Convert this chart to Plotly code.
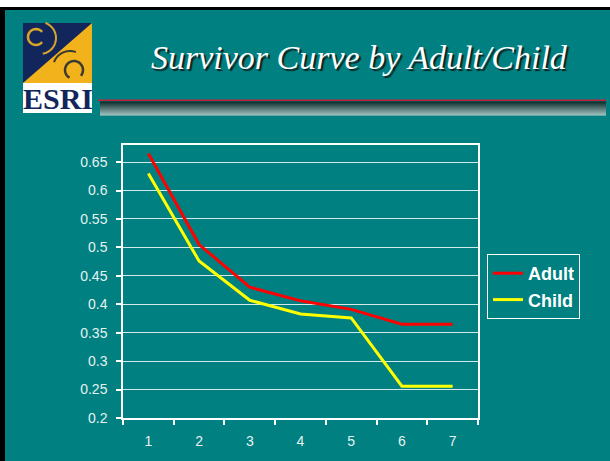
import numpy as np
import plotly.graph_objects as go

# ---- data ----
categories = ["1", "2", "3", "4", "5", "6", "7"]
adult = [0.665, 0.505, 0.430, 0.406, 0.391, 0.365, 0.365]
child = [0.630, 0.476, 0.407, 0.383, 0.376, 0.256, 0.256]
y_tickvals = [0.2, 0.25, 0.3, 0.35, 0.4, 0.45, 0.5, 0.55, 0.6, 0.65]
y_ticktext = ["0.2", "0.25", "0.3", "0.35", "0.4", "0.45", "0.5", "0.55", "0.6", "0.65"]
title_text = "Survivor Curve by Adult/Child"

W, H = 610, 461
L, R, T, B = 123, 478, 145, 418  # plot area in pixels
TEAL = "#008080"
AX = "#ffffff"
TXT = "#e6f2f2"


def px(x):
    return (x - L) / (R - L)


def py(y):
    return (B - y) / (B - T)


fig = go.Figure()
fig.add_trace(go.Scatter(x=categories, y=adult, mode="lines", name="Adult",
                         line=dict(color="#ff0000", width=3)))
fig.add_trace(go.Scatter(x=categories, y=child, mode="lines", name="Child",
                         line=dict(color="#ffff00", width=3)))

shapes = []
# frame: white strip at top, black border
shapes.append(dict(type="rect", xref="paper", yref="paper", x0=px(0), x1=px(W), y0=py(0), y1=py(7),
                   fillcolor="#ffffff", line=dict(width=0), layer="below"))
shapes.append(dict(type="rect", xref="paper", yref="paper", x0=px(0), x1=px(W), y0=py(7), y1=py(10),
                   fillcolor="#000000", line=dict(width=0), layer="below"))
shapes.append(dict(type="rect", xref="paper", yref="paper", x0=px(0), x1=px(5), y0=py(7), y1=py(H),
                   fillcolor="#000000", line=dict(width=0), layer="below"))

# logo
lx0, lx1, ly0, ly1, lyw = 23, 92, 23, 113, 83
shapes.append(dict(type="rect", xref="paper", yref="paper", x0=px(lx0), x1=px(lx1), y0=py(ly0), y1=py(lyw),
                   fillcolor="#13265c", line=dict(width=0)))
shapes.append(dict(type="path", xref="paper", yref="paper",
                   path=f"M {px(lx0)},{py(lyw)} L {px(lx1)},{py(ly0)} L {px(lx1)},{py(lyw)} Z",
                   fillcolor="#f2b21c", line=dict(width=0)))
shapes.append(dict(type="rect", xref="paper", yref="paper", x0=px(lx0), x1=px(lx1), y0=py(lyw), y1=py(ly1),
                   fillcolor="#ffffff", line=dict(width=0)))


def arc(cx, cy, r, a0, a1, n=24):
    ang = np.radians(np.linspace(a0, a1, n))
    pts = [(px(cx + r * np.cos(a)), py(cy + r * np.sin(a))) for a in ang]
    return "M " + " L ".join(f"{a:.5f},{b:.5f}" for a, b in pts)


shapes.append(dict(type="path", xref="paper", yref="paper", path=arc(36, 37, 8, 40, 320),
                   line=dict(color="#d8a628", width=2.5)))
shapes.append(dict(type="path", xref="paper", yref="paper", path=arc(40, 38, 16, -70, 80),
                   line=dict(color="#d8a628", width=2)))
shapes.append(dict(type="path", xref="paper", yref="paper", path=arc(74, 70, 9, 120, 400),
                   line=dict(color="#3a3a30", width=2.5)))
shapes.append(dict(type="path", xref="paper", yref="paper", path=arc(70, 68, 17, 200, 290),
                   line=dict(color="#3a3a30", width=2)))

# separator: red line + gray gradient bar
shapes.append(dict(type="line", xref="paper", yref="paper", x0=px(98), x1=px(606), y0=py(100.3), y1=py(100.3),
                   line=dict(color="#c8203c", width=1.5)))
n = 14
for i in range(n):
    g = int(20 + (210 - 20) * i / (n - 1))
    shapes.append(dict(type="rect", xref="paper", yref="paper", x0=px(100), x1=px(606),
                       y0=py(101.5 + i), y1=py(102.5 + i),
                       fillcolor=f"rgb({g},{g},{g})", line=dict(width=0)))

annotations = [
    dict(text="<i>" + title_text + "</i>", xref="paper", yref="paper", x=px(359), y=py(57),
         xanchor="center", yanchor="middle", showarrow=False,
         font=dict(family="Liberation Serif", size=34, color="#ffffff",
                   shadow="2px 2px 1px #102020")),
    dict(text="<b>ESRI</b>", xref="paper", yref="paper", x=px(57.5), y=py(98.5),
         xanchor="center", yanchor="middle", showarrow=False,
         font=dict(family="Liberation Serif", size=30, color="#13265c")),
]

fig.update_layout(
    width=W, height=H,
    margin=dict(l=L, r=W - R, t=T, b=H - B, pad=0),
    paper_bgcolor=TEAL, plot_bgcolor=TEAL,
    shapes=shapes, annotations=annotations,
    font=dict(family="Liberation Sans, Arial", size=14, color=TXT),
    showlegend=True,
    legend=dict(x=px(487), y=py(254), xanchor="left", yanchor="top",
                bgcolor="rgba(0,0,0,0)", bordercolor="#ffffff", borderwidth=1,
                font=dict(family="Liberation Sans, Arial", size=18, color="#ffffff", weight="bold"),
                itemwidth=30, tracegroupgap=0),
    xaxis=dict(type="category", range=[-0.5, 6.5], tickson="boundaries",
               showgrid=False, showline=True, linecolor=AX, linewidth=1.5, mirror=True,
               ticks="outside", ticklen=5, tickcolor=AX, tickwidth=1.5,
               tickfont=dict(size=14, color=TXT), zeroline=False, ticklabelstandoff=9),
    yaxis=dict(range=[0.2, 0.68], tickvals=y_tickvals, ticktext=y_ticktext,
               showgrid=True, gridcolor="rgba(235,245,245,0.9)", gridwidth=1.2,
               showline=True, linecolor=AX, linewidth=1.5, mirror=True,
               ticks="outside", ticklen=5, tickcolor=AX, tickwidth=1.5,
               tickfont=dict(size=14, color=TXT), zeroline=False, ticklabelstandoff=6),
)

fig.write_html("out.html", config={"displayModeBar": False},
               post_script="document.body.style.margin='0px';")
